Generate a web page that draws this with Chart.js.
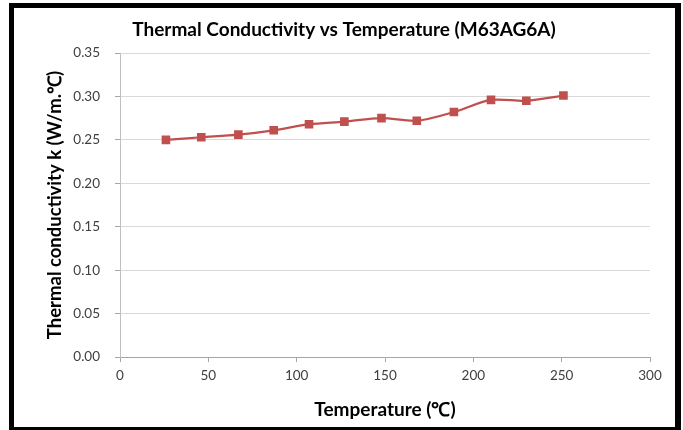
<!DOCTYPE html>
<html>
<head>
<meta charset="utf-8">
<script src="https://cdn.jsdelivr.net/npm/chart.js@4.4.1/dist/chart.umd.min.js"></script>
<style>
	html, body { margin: 0; padding: 0; background: #fff; }
	#frame {
		position: absolute; left: 9px; top: 3px;
		width: 672px; height: 427px; box-sizing: border-box;
		border: 5px solid #000; border-right-width: 6px; border-bottom-width: 3px;
		background: #fff;
	}
	#chart { display: block; }
</style>
</head>
<body>
<div id="frame"><canvas id="chart" width="661" height="419"></canvas></div>
<script>
// số liệu
var temperatures = [26, 46, 67, 87, 107, 127, 148, 168, 189, 210, 230, 251];
var conductivity = [0.250, 0.253, 0.256, 0.261, 0.268, 0.271, 0.275, 0.272, 0.282, 0.296, 0.295, 0.301];
var yTicks = [0, 0.05, 0.10, 0.15, 0.20, 0.25, 0.30, 0.35];
var xTicks = [0, 50, 100, 150, 200, 250, 300];

var fontFamily = "Lato, 'Open Sans', sans-serif";
var points = temperatures.map(function(t, i) {
	return { x: t, y: conductivity[i] };
});

var ctx = document.getElementById("chart").getContext("2d");
var myChart = new Chart(ctx, {
	type: "line",
	data: {
		datasets: [
			{
				data: points,
				borderColor: "#C0504D",
				backgroundColor: "#C0504D",
				borderWidth: 2.25,
				pointStyle: "rect",
				pointRadius: 4.5,
				pointHoverRadius: 4.5,
				tension: 0.3,
				fill: false,
			},
		],
	},
	options: {
		responsive: false,
		animation: false,
		layout: { padding: { left: 12, right: 13, top: 0, bottom: 0 } },
		plugins: {
			legend: { display: false },
			tooltip: { enabled: false },
			title: {
				display: true,
				text: "Thermal Conductivity vs Temperature (M63AG6A)",
				color: "#000",
				font: { family: fontFamily, size: 19, weight: "bold" },
				padding: { top: 10.6, bottom: 11.6 },
			},
		},
		scales: {
			x: {
				type: "linear",
				min: 0,
				max: 300,
				afterBuildTicks: function(scale) {
					scale.ticks = xTicks.map(function(v) { return { value: v }; });
				},
				afterFit: function(scale) { scale.height = 70; },
				grid: { drawOnChartArea: false, drawTicks: true, tickLength: 5, color: "#a6a6a6" },
				border: { color: "#a6a6a6", width: 1 },
				ticks: { color: "#404040", font: { family: fontFamily, size: 13.5 }, padding: 6 },
				title: {
					display: true,
					text: "Temperature (℃)",
					color: "#000",
					font: { family: fontFamily, size: 19, weight: "bold" },
					padding: { top: 0, bottom: 5.6 },
				},
			},
			y: {
				min: 0,
				max: 0.35,
				afterBuildTicks: function(scale) {
					scale.ticks = yTicks.map(function(v) { return { value: v }; });
				},
				afterFit: function(scale) { scale.width = 94; },
				grid: { color: "#d9d9d9", tickLength: 5, tickColor: "#a6a6a6" },
				border: { color: "#bfbfbf", width: 1 },
				ticks: {
					color: "#404040",
					font: { family: fontFamily, size: 13.5 },
					padding: 15,
					callback: function(v) { return Number(v).toFixed(2); },
				},
				title: {
					display: true,
					text: "Thermal conductivity k (W/m.℃)",
					color: "#000",
					font: { family: fontFamily, size: 18.5, weight: "bold" },
					padding: { top: 18, bottom: 0 },
				},
			},
			// trục phụ trống bên phải, chỉ để chừa khoảng trống
			yRight: {
				position: "right",
				min: 0,
				max: 0.35,
				afterFit: function(scale) { scale.width = 12; },
				grid: { display: false },
				border: { display: false },
				ticks: { display: false },
			},
		},
	},
});
</script>
</body>
</html>
